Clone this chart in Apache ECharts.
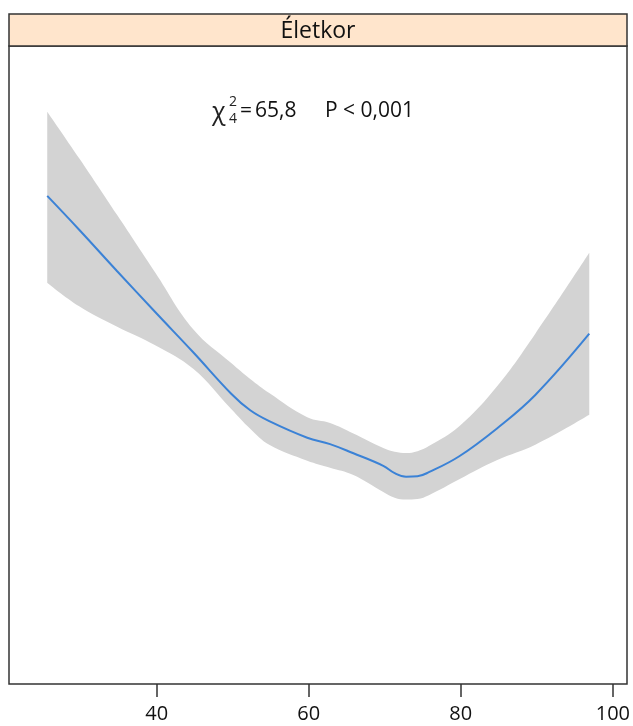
<!DOCTYPE html>
<html>
<head>
<meta charset="utf-8">
<script src="https://cdn.jsdelivr.net/npm/echarts@6/dist/echarts.min.js"></script>
<style>
  html, body { margin: 0; padding: 0; background: #fff; }
  #chart { width: 633px; height: 726px; }
</style>
</head>
<body>
<div id="chart"></div>
<script>
  // age (x) and smoothed effect with its confidence band (y, arbitrary scale 0-100)
  var ages  = [25.6, 29.8, 34.8, 39.8, 44.8, 49.8, 52.3, 54.8, 59.8, 62.8, 65.8, 69.8, 71.3, 72.8, 74.3, 75.8, 79.8, 84.8, 89.8, 96.9]
  var fit   = [76.5, 71.2, 64.7, 58.3, 52.0, 45.5, 42.9, 41.2, 38.6, 37.6, 36.2, 34.2, 33.05, 32.5, 32.56, 33.2, 35.7, 40.1, 45.3, 54.9]
  var upper = [89.7, 82.4, 73.5, 64.5, 55.6, 50.3, 47.8, 45.6, 41.8, 40.9, 39.3, 37.0, 36.4, 36.2, 36.5, 37.3, 40.4, 46.7, 54.9, 67.6]
  var lower = [62.9, 59.2, 56.0, 53.1, 49.4, 43.1, 40.0, 37.5, 35.0, 33.9, 32.8, 30.1, 29.2, 28.9, 29.0, 29.6, 32.1, 35.1, 37.5, 42.2]
  var xTicks = [40, 60, 80, 100]
  var stripTitle = 'Életkor'

  var font = '"Open Sans", "Noto Sans", sans-serif'
  var chart = echarts.init(document.getElementById('chart'))

  // value first so that the stack goes on y
  var bandLow = ages.map(function (a, i) { return [lower[i], a] })
  var bandWidth = ages.map(function (a, i) { return [+(upper[i] - lower[i]).toFixed(2), a] })
  var fitData = ages.map(function (a, i) { return [a, fit[i]] })

  chart.setOption({
    animation: false,
    grid: {
      left: 9,
      top: 46,
      width: 618,
      height: 638,
      show: false
    },
    xAxis: {
      type: 'value',
      min: 20.57,
      max: 101.76,
      axisLine: { show: false },
      axisTick: {
        show: true,
        length: 13,
        customValues: xTicks,
        lineStyle: { color: '#333', width: 1.5 }
      },
      axisLabel: {
        customValues: xTicks,
        margin: 20,
        fontSize: 20,
        color: '#111',
        fontFamily: font
      },
      splitLine: { show: false }
    },
    yAxis: {
      type: 'value',
      min: 0,
      max: 100,
      show: false,
      splitLine: { show: false }
    },
    series: [
      {
        name: 'lower',
        type: 'line',
        stack: 'ci',
        encode: { x: 1, y: 0 },
        data: bandLow,
        smooth: 0.4,
        symbol: 'none',
        lineStyle: { width: 0, opacity: 0 },
        silent: true
      },
      {
        name: 'band',
        type: 'line',
        stack: 'ci',
        encode: { x: 1, y: 0 },
        data: bandWidth,
        smooth: 0.4,
        symbol: 'none',
        lineStyle: { width: 0, opacity: 0 },
        areaStyle: { color: '#d3d3d3', opacity: 1 },
        silent: true
      },
      {
        name: 'fit',
        type: 'line',
        data: fitData,
        smooth: 0.4,
        symbol: 'none',
        lineStyle: { color: '#3b82d6', width: 2 },
        z: 5
      }
    ],
    graphic: [
      {
        type: 'rect',
        z: 100,
        shape: { x: 9, y: 46, width: 618, height: 638 },
        style: { fill: null, stroke: '#333', lineWidth: 1.5 }
      },
      {
        type: 'rect',
        z: 100,
        shape: { x: 9, y: 14, width: 618, height: 32 },
        style: { fill: '#ffe5cc', stroke: '#333', lineWidth: 1.5 }
      },
      {
        type: 'text',
        z: 101,
        x: 318, y: 31,
        style: {
          text: stripTitle, fill: '#111', fontSize: 23, fontFamily: font,
          align: 'center', verticalAlign: 'middle'
        }
      },
      {
        type: 'text',
        z: 101,
        x: 212, y: 113,
        style: { text: 'χ', fill: '#222', fontSize: 25, fontFamily: font, verticalAlign: 'middle' }
      },
      {
        type: 'text',
        z: 101,
        x: 229, y: 102,
        style: { text: '2', fill: '#222', fontSize: 14, fontFamily: font, verticalAlign: 'middle' }
      },
      {
        type: 'text',
        z: 101,
        x: 229, y: 119,
        style: { text: '4', fill: '#222', fontSize: 14, fontFamily: font, verticalAlign: 'middle' }
      },
      {
        type: 'text',
        z: 101,
        x: 240, y: 111,
        style: { text: '=', fill: '#111', fontSize: 21, fontFamily: font, verticalAlign: 'middle' }
      },
      {
        type: 'text',
        z: 101,
        x: 255, y: 111,
        style: { text: '65,8', fill: '#111', fontSize: 21, fontFamily: font, verticalAlign: 'middle' }
      },
      {
        type: 'text',
        z: 101,
        x: 325, y: 111,
        style: { text: 'P < 0,001', fill: '#111', fontSize: 21, fontFamily: font, verticalAlign: 'middle' }
      }
    ]
  })
</script>
</body>
</html>
